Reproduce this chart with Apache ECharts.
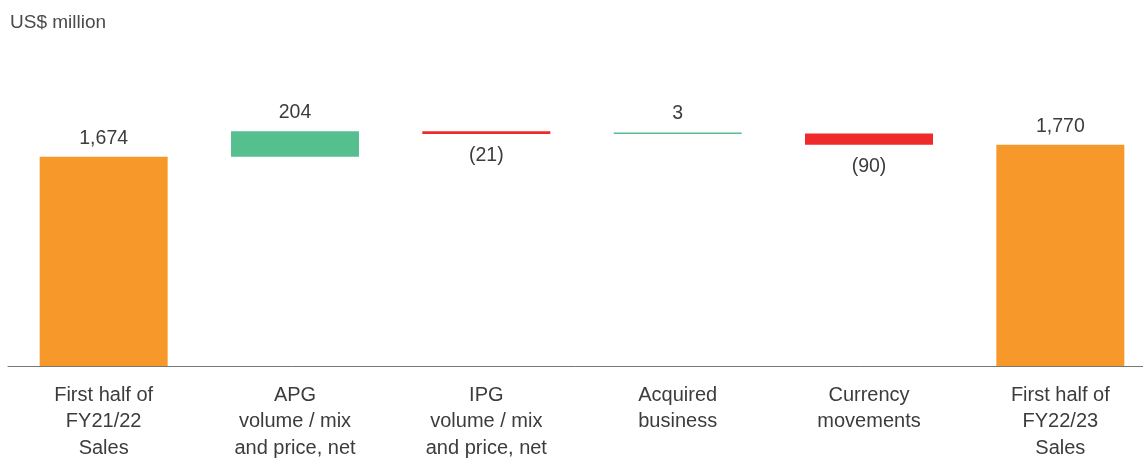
<!DOCTYPE html>
<html><head><meta charset="utf-8">
<script src="https://cdn.jsdelivr.net/npm/echarts@6/dist/echarts.min.js"></script>
<style>html,body{margin:0;padding:0;background:#fff}#c{width:1143px;height:458px}</style>
</head><body><div id="c"></div>
<script>
const categories = ['First half of\nFY21/22\nSales','APG\nvolume / mix\nand price, net','IPG\nvolume / mix\nand price, net','Acquired\nbusiness','Currency\nmovements','First half of\nFY22/23\nSales'];
const changes = [1674, 204, -21, 3, -90, 1770];
const isTotal = [true, false, false, false, false, true];
const valueLabels = ['1,674','204','(21)','3','(90)','1,770'];
const colors = {total:'#F7992A', up:'#55BF8F', down:'#EE2A2A'};

let running = 0;
const base = [], heights = [];
changes.forEach((v,i)=>{
  if(isTotal[i]){ base.push(0); heights.push(v); running = v; }
  else { const s = running + v; base.push(Math.min(running, s)); heights.push(Math.abs(v)); running = s; }
});
const font = '"Liberation Sans", Arial, sans-serif';
const chart = echarts.init(document.getElementById('c'));
chart.setOption({
  animation:false,
  graphic:[{type:'text', left:10, top:13, style:{text:'US$ million', fontSize:19, fontFamily:font, fill:'#4a4a4a'}}],
  grid:{left:8, width:1148, top:66, bottom:92, outerBoundsMode:'none', containLabel:false},
  xAxis:{type:'category', data:categories,
    axisLine:{lineStyle:{color:'#777', width:1}}, axisTick:{show:false},
    axisLabel:{fontSize:20, lineHeight:26.5, color:'#3c3c3c', fontFamily:font, margin:16, interval:0}},
  yAxis:{type:'value', min:0, max:2400, show:false, splitLine:{show:false}},
  series:[
    {type:'bar', stack:'w', data:base, itemStyle:{color:'transparent'}, barWidth:128, silent:true},
    {type:'bar', stack:'w', barWidth:128, barMinHeight:1.5,
     data:heights.map((h,i)=>({value:h,
       itemStyle:{color: isTotal[i]?colors.total:(changes[i]>0?colors.up:colors.down)},
       label:{show:true, position: changes[i]<0?'bottom':'top', distance: changes[i]<0?12:8.5,
         formatter: valueLabels[i], fontSize:19.5, color:'#3c3c3c', fontFamily:font}}))}
  ]
});
</script></body></html>
